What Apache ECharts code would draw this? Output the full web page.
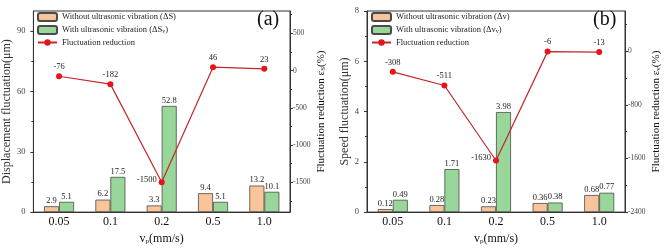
<!DOCTYPE html>
<html>
<head>
<meta charset="utf-8">
<script src="https://cdn.jsdelivr.net/npm/echarts@6/dist/echarts.min.js"></script>
<style>
  html, body { margin: 0; padding: 0; background: #fff; }
  #chart { width: 669px; height: 250px; }
</style>
</head>
<body>
<div id="chart"></div>
<script>
const speeds = ['0.05', '0.1', '0.2', '0.5', '1.0']

// (a) displacement fluctuation
const dispWithout = [2.9, 6.2, 3.3, 9.4, 13.2]
const dispWith = [5.1, 17.5, 52.8, 5.1, 10.1]
const dispReduction = [-76, -182, -1500, 46, 23]

// (b) speed fluctuation
const speedWithout = [0.12, 0.28, 0.23, 0.36, 0.68]
const speedWith = [0.49, 1.71, 3.98, 0.38, 0.77]
const speedReduction = [-308, -511, -1630, -6, -13]

// tick values
const dispTicks = [0, 30, 60, 90]
const dispMinor = [15, 45, 75]
const dispRedTicks = [-1500, -1000, -500, 0, 500]
const dispRedMinor = [-1750, -1250, -750, -250, 250, 750]
const speedTicks = [0, 2, 4, 6, 8]
const speedMinor = [1, 3, 5, 7]
const speedRedTicks = [-2400, -1600, -800, 0]
const speedRedMinor = [-2000, -1200, -400, 400]

const FONT = "'Liberation Serif', 'Times New Roman', serif"
const ORANGE = '#FAC49A'
const GREEN = '#98D69A'
const EDGE = '#4a4a4a'
const RED = '#E3141C'
const LINE = '#C3272B'

const rich = {
  n: { fontFamily: FONT, fontSize: 11, color: '#111' },
  s: { fontFamily: FONT, fontSize: 7, color: '#111', verticalAlign: 'bottom', padding: [4, 0, 0, 0] },
}
const legendRich = {
  n: { fontFamily: FONT, fontSize: 8.5, color: '#222' },
  s: { fontFamily: FONT, fontSize: 6, color: '#222', verticalAlign: 'bottom', padding: [3, 0, 0, 0] },
}

const names = {
  a1: 'Without ultrasonic vibration (ΔS)',
  a2: 'With ultrasonic vibration (ΔSv)',
  b1: 'Without ultrasonic vibration (Δv)',
  b2: 'With ultrasonic vibration (Δvv)',
  r: 'Fluctuation reduction',
}
const legendText = {
  [names.a1]: '{n|Without ultrasonic vibration (ΔS)}',
  [names.a2]: '{n|With ultrasonic vibration (ΔS}{s|v}{n|)}',
  [names.b1]: '{n|Without ultrasonic vibration (Δv)}',
  [names.b2]: '{n|With ultrasonic vibration (Δv}{s|v}{n|)}',
  [names.r]: '{n|Fluctuation reduction}',
}

// main axis + a second one that only draws the short minor ticks
function yAxes(grid, position, min, max, ticks, minor, name, nameGap, labelSize, labelMargin) {
  return [
    {
      type: 'value', gridIndex: grid, position, min, max,
      name, nameLocation: 'middle', nameGap, nameRotate: 90,
      nameTextStyle: { rich },
      axisLine: { show: true, lineStyle: { color: '#333', width: 1 } },
      axisTick: { show: true, length: 3, customValues: ticks, lineStyle: { color: '#333' } },
      axisLabel: {
        customValues: ticks, formatter: v => String(v),
        fontFamily: FONT, fontSize: labelSize, color: '#444', margin: labelMargin,
      },
      splitLine: { show: false },
    },
    {
      type: 'value', gridIndex: grid, position, min, max,
      axisLine: { show: false },
      axisTick: { show: true, length: 2, customValues: minor, lineStyle: { color: '#333' } },
      axisLabel: { show: false },
      splitLine: { show: false },
    },
  ]
}

function xAxis(grid) {
  return {
    type: 'category', gridIndex: grid, data: speeds,
    name: '{n|v}{s|p}{n|(mm/s)}', nameLocation: 'middle', nameGap: 13,
    nameTextStyle: { rich: { ...rich, n: { ...rich.n, fontSize: 12 } } },
    axisLine: { lineStyle: { color: '#333', width: 1 } },
    axisTick: { alignWithLabel: true, length: 3, lineStyle: { color: '#333' } },
    axisLabel: { fontFamily: FONT, fontSize: 12, color: '#111', margin: 4 },
  }
}

function barSeries(name, data, color, xi, yi) {
  return {
    name, type: 'bar', xAxisIndex: xi, yAxisIndex: yi, data,
    barWidth: 15, barGap: '0%',
    itemStyle: { color, borderColor: EDGE, borderWidth: 0.8 },
    label: { show: true, position: 'top', distance: 1, fontFamily: FONT, fontSize: 8.5, color: '#222' },
  }
}

function lineSeries(data, xi, yi) {
  const lowest = Math.min(...data)
  return {
    name: names.r, type: 'line', xAxisIndex: xi, yAxisIndex: yi,
    data: data.map(v => v === lowest ? { value: v, label: { position: 'left', distance: 2, offset: [0, -3] } } : v),
    symbol: 'circle', symbolSize: 6,
    lineStyle: { color: LINE, width: 1.2 },
    itemStyle: { color: RED },
    label: { show: true, position: 'top', distance: 2, fontFamily: FONT, fontSize: 8.5, color: '#222' },
    z: 5,
  }
}

function legend(left, items) {
  return {
    data: items, left, top: 12, orient: 'vertical',
    itemWidth: 19, itemHeight: 8, itemGap: 3, padding: 0,
    textStyle: { rich: legendRich },
    formatter: n => legendText[n],
  }
}

const gridBase = { top: 11, height: 207, show: true, borderColor: '#333', borderWidth: 1, backgroundColor: 'transparent' }

const chart = echarts.init(document.getElementById('chart'), null, { renderer: 'canvas' })
chart.setOption({
  animation: false,
  textStyle: { fontFamily: FONT },
  grid: [
    { ...gridBase, left: 33, width: 257 },
    { ...gridBase, left: 367, width: 258 },
  ],
  xAxis: [xAxis(0), xAxis(1)],
  yAxis: [
    ...yAxes(0, 'left', 0, 100, dispTicks, dispMinor, 'Displacement fluctuation(μm)', 17, 8.5, 8),
    ...yAxes(0, 'right', -1900, 800, dispRedTicks, dispRedMinor, '{n|Fluctuation reduction ε}{s|S}{n|(%)}', 26, 7.5, 3),
    ...yAxes(1, 'left', 0, 8, speedTicks, speedMinor, 'Speed fluctuation(μm)', 13, 8.5, 8),
    ...yAxes(1, 'right', -2400, 600, speedRedTicks, speedRedMinor, '{n|Fluctuation reduction ε}{s|v}{n|(%)}', 26, 7.5, 3),
  ],
  legend: [
    legend(37, [names.a1, names.a2, names.r]),
    legend(371, [names.b1, names.b2, names.r]),
  ],
  graphic: [
    { type: 'text', left: 257, top: 10, style: { text: '(a)', font: '20px ' + FONT, fill: '#111' } },
    { type: 'text', left: 593, top: 10, style: { text: '(b)', font: '20px ' + FONT, fill: '#111' } },
  ],
  series: [
    barSeries(names.a1, dispWithout, ORANGE, 0, 0),
    barSeries(names.a2, dispWith, GREEN, 0, 0),
    lineSeries(dispReduction, 0, 2),
    barSeries(names.b1, speedWithout, ORANGE, 1, 4),
    barSeries(names.b2, speedWith, GREEN, 1, 4),
    lineSeries(speedReduction, 1, 6),
  ],
})
</script>
</body>
</html>
